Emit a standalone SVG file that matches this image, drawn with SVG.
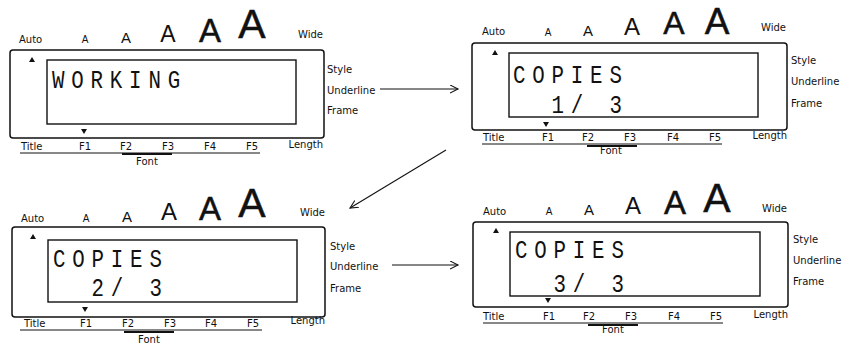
<svg xmlns="http://www.w3.org/2000/svg" width="851" height="348" viewBox="0 0 851 348">
<style>
  .outer{fill:none;stroke:#111;stroke-width:1.5}
  .inner{fill:none;stroke:#111;stroke-width:1.4}
  .lbl{font-family:"DejaVu Sans",sans-serif;font-size:10px;fill:#111}
  .mid{text-anchor:middle}
  .end{text-anchor:end}
  .A{font-family:"Liberation Sans",Arial,sans-serif;text-anchor:middle;fill:#111}
  .Ab{stroke:#111;stroke-width:0.5}
  .tri{fill:#111}
  .ul{fill:none;stroke:#111;stroke-width:1}
  .ul2{fill:none;stroke:#111;stroke-width:1.8}
  .lcd{font-family:"Liberation Mono",monospace;font-size:26px;letter-spacing:8.5px;fill:#111}
  .conn{fill:none;stroke:#111;stroke-width:1.1}
</style>
<defs>
  <marker id="arr" markerWidth="10" markerHeight="10" refX="8" refY="4" orient="auto" markerUnits="userSpaceOnUse">
    <path d="M0,0 L8,4 L0,8" fill="none" stroke="#111" stroke-width="1.1"/>
  </marker>
</defs>

<g id="panel-working" transform="translate(10,50)">
  <rect class="outer" x="0" y="0" width="314" height="88" rx="3"/>
  <rect class="inner" x="37" y="10" width="249" height="64"/>
  <text class="lbl" x="9" y="-7">Auto</text>
  <text class="A" x="75" y="-7" font-size="10">A</text>
  <text class="A" x="116" y="-7" font-size="15">A</text>
  <text class="A" x="158" y="-8" font-size="23">A</text>
  <text class="A Ab" x="200" y="-8" font-size="33">A</text>
  <text class="A Ab" x="242" y="-12" font-size="41">A</text>
  <text class="lbl end" x="313" y="-12">Wide</text>
  <path class="tri" d="M19,12 L22,7 L25,12 Z"/>
  <path class="tri" d="M71,79 L77,79 L74,84 Z"/>
  <text class="lbl" x="317" y="23">Style</text>
  <text class="lbl" x="317" y="44">Underline</text>
  <text class="lbl" x="317" y="64">Frame</text>
  <text class="lbl" x="11" y="100">Title</text>
  <text class="lbl mid" x="75" y="100">F1</text>
  <text class="lbl mid" x="116" y="100">F2</text>
  <text class="lbl mid" x="158" y="100">F3</text>
  <text class="lbl mid" x="200" y="100">F4</text>
  <text class="lbl mid" x="242" y="100">F5</text>
  <text class="lbl end" x="313" y="98">Length</text>
  <path class="ul" d="M10,103 H250"/>
  <path class="ul2" d="M112,104 H162"/>
  <text class="lbl mid" x="137" y="115">Font</text>
  <text class="lcd" transform="translate(42,38) scale(0.8,1)">WORKING</text>
</g>

<g id="panel-copies-1" transform="translate(472,43)">
  <rect class="outer" x="0" y="0" width="315" height="87" rx="3"/>
  <rect class="inner" x="37" y="10" width="249" height="64"/>
  <text class="lbl" x="10" y="-8">Auto</text>
  <text class="A" x="76" y="-7" font-size="10">A</text>
  <text class="A" x="116" y="-7" font-size="15">A</text>
  <text class="A" x="160" y="-8" font-size="24">A</text>
  <text class="A Ab" x="202" y="-9" font-size="32">A</text>
  <text class="A Ab" x="245" y="-9" font-size="37">A</text>
  <text class="lbl end" x="314" y="-12">Wide</text>
  <path class="tri" d="M20,12 L23,7 L26,12 Z"/>
  <path class="tri" d="M71,79 L77,79 L74,84 Z"/>
  <text class="lbl" x="319" y="21">Style</text>
  <text class="lbl" x="319" y="42">Underline</text>
  <text class="lbl" x="319" y="64">Frame</text>
  <text class="lbl" x="11" y="98">Title</text>
  <text class="lbl mid" x="76" y="98">F1</text>
  <text class="lbl mid" x="116" y="98">F2</text>
  <text class="lbl mid" x="158" y="98">F3</text>
  <text class="lbl mid" x="201" y="98">F4</text>
  <text class="lbl mid" x="243" y="98">F5</text>
  <text class="lbl end" x="315" y="96">Length</text>
  <path class="ul" d="M10,101 H250"/>
  <path class="ul2" d="M115,103 H165"/>
  <text class="lbl mid" x="139" y="111">Font</text>
  <text class="lcd" transform="translate(41,40) scale(0.8,1)">COPIES</text>
  <text class="lcd" transform="translate(41,70) scale(0.8,1)" xml:space="preserve">  1/ 3</text>
</g>

<g id="panel-copies-2" transform="translate(12,227)">
  <rect class="outer" x="0" y="0" width="313" height="90" rx="3"/>
  <rect class="inner" x="36" y="13" width="249" height="62"/>
  <text class="lbl" x="9" y="-5">Auto</text>
  <text class="A" x="74" y="-5" font-size="10">A</text>
  <text class="A" x="115" y="-5" font-size="15">A</text>
  <text class="A" x="157" y="-7" font-size="24">A</text>
  <text class="A Ab" x="198" y="-7" font-size="33">A</text>
  <text class="A Ab" x="240" y="-10" font-size="41">A</text>
  <text class="lbl end" x="313" y="-11">Wide</text>
  <path class="tri" d="M18,12 L21,7 L24,12 Z"/>
  <path class="tri" d="M70,80 L76,80 L73,85 Z"/>
  <text class="lbl" x="318" y="23">Style</text>
  <text class="lbl" x="318" y="43">Underline</text>
  <text class="lbl" x="318" y="65">Frame</text>
  <text class="lbl" x="12" y="100">Title</text>
  <text class="lbl mid" x="74" y="100">F1</text>
  <text class="lbl mid" x="116" y="100">F2</text>
  <text class="lbl mid" x="158" y="100">F3</text>
  <text class="lbl mid" x="199" y="100">F4</text>
  <text class="lbl mid" x="241" y="100">F5</text>
  <text class="lbl end" x="313" y="97">Length</text>
  <path class="ul" d="M8,103 H250"/>
  <path class="ul2" d="M112,105 H162"/>
  <text class="lbl mid" x="137" y="116">Font</text>
  <text class="lcd" transform="translate(41,40) scale(0.8,1)">COPIES</text>
  <text class="lcd" transform="translate(41,69) scale(0.8,1)" xml:space="preserve">  2/ 3</text>
</g>

<g id="panel-copies-3" transform="translate(473,222)">
  <rect class="outer" x="0" y="0" width="315" height="85" rx="3"/>
  <rect class="inner" x="37" y="10" width="250" height="64"/>
  <text class="lbl" x="10" y="-7">Auto</text>
  <text class="A" x="76" y="-7" font-size="10">A</text>
  <text class="A" x="116" y="-7" font-size="15">A</text>
  <text class="A" x="160" y="-8" font-size="24">A</text>
  <text class="A Ab" x="202" y="-8" font-size="33">A</text>
  <text class="A Ab" x="244" y="-10" font-size="41">A</text>
  <text class="lbl end" x="314" y="-10">Wide</text>
  <path class="tri" d="M20,11 L23,6 L26,11 Z"/>
  <path class="tri" d="M72,76 L78,76 L75,81 Z"/>
  <text class="lbl" x="320" y="21">Style</text>
  <text class="lbl" x="320" y="42">Underline</text>
  <text class="lbl" x="320" y="63">Frame</text>
  <text class="lbl" x="10" y="98">Title</text>
  <text class="lbl mid" x="76" y="98">F1</text>
  <text class="lbl mid" x="116" y="98">F2</text>
  <text class="lbl mid" x="158" y="98">F3</text>
  <text class="lbl mid" x="201" y="98">F4</text>
  <text class="lbl mid" x="243" y="98">F5</text>
  <text class="lbl end" x="315" y="96">Length</text>
  <path class="ul" d="M10,101 H250"/>
  <path class="ul2" d="M115,103 H165"/>
  <text class="lbl mid" x="140" y="111">Font</text>
  <text class="lcd" transform="translate(42,36) scale(0.8,1)">COPIES</text>
  <text class="lcd" transform="translate(42,70) scale(0.8,1)" xml:space="preserve">  3/ 3</text>
</g>

<g id="connectors">
  <path class="conn" d="M380,89 H458" marker-end="url(#arr)"/>
  <path class="conn" d="M446,150 L350,208" marker-end="url(#arr)"/>
  <path class="conn" d="M392,265 H458" marker-end="url(#arr)"/>
</g>
</svg>
